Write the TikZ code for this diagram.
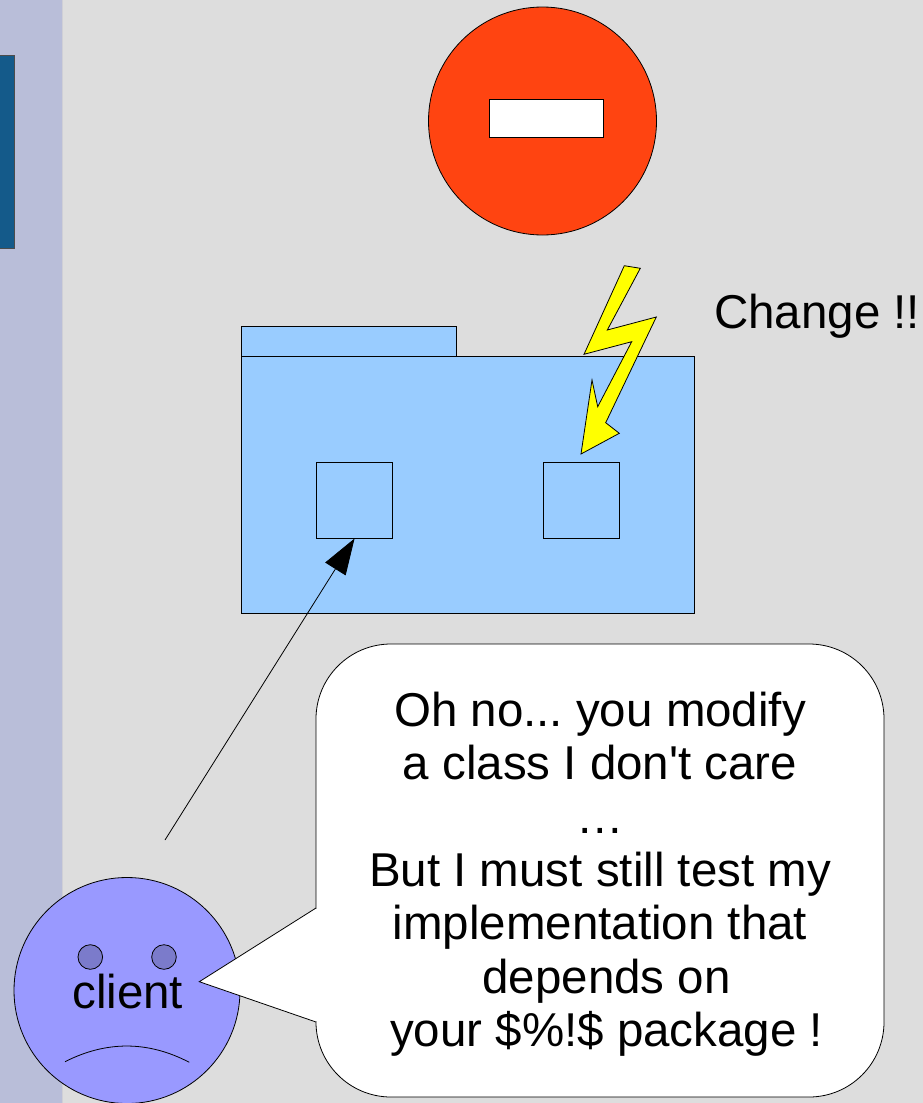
\documentclass[tikz,border=0pt]{standalone}
\usepackage{fontspec}
\setmainfont{Liberation Sans}
\frenchspacing
\usetikzlibrary{arrows.meta}
\definecolor{pagebg}{HTML}{DDDDDD}
\definecolor{sidebar}{HTML}{B9BED9}
\definecolor{sideline}{HTML}{CFCFD6}
\definecolor{navy}{HTML}{145A8A}
\definecolor{stopred}{HTML}{FF4411}
\definecolor{folderblue}{HTML}{99CCFF}
\definecolor{bolt}{HTML}{FFFF00}
\definecolor{facefill}{HTML}{9999FF}
\definecolor{eyefill}{HTML}{7B7BCB}
\begin{document}
\begin{tikzpicture}[x=1pt,y=-1pt,
  outline/.style={draw=black,line width=0.8pt},
  panel/.style={outline,rectangle,inner sep=0pt,anchor=north west},
  disc/.style={outline,circle,inner sep=0pt},
  bigtext/.style={font=\fontsize{47.5}{53.4}\selectfont,inner sep=0pt}]
\useasboundingbox (0,0) rectangle (923,1103);
% page background and side strip
\fill[pagebg] (0,0) rectangle (923,1103);
\fill[sidebar] (0,0) rectangle (61.5,1103);
\draw[sideline,line width=1pt] (62,0) -- (62,1103);
\node[panel,draw=black!70,fill=navy,minimum width=17pt,minimum height=193pt] (sidebox) at (-3,55) {};

% no-entry sign
\node[disc,fill=stopred,minimum size=228pt] (stop) at (542.5,121) {};
\node[panel,fill=white,minimum width=114pt,minimum height=38pt] (bar) at (489,99) {};

% package folder with its two classes
\node[panel,fill=folderblue,minimum width=215.3pt,minimum height=29.7pt] (tab) at (240.7,326) {};
\node[panel,fill=folderblue,minimum width=453.6pt,minimum height=257.6pt] (folder) at (240.7,355.7) {};
\node[panel,fill=folderblue,minimum width=75.7pt,minimum height=75.4pt] (boxL) at (316.3,462.3) {};
\node[panel,fill=folderblue,minimum width=76pt,minimum height=75.4pt] (boxR) at (542.7,462.3) {};

% lightning bolt striking the changed class
\draw[outline,fill=bolt,line join=miter]
  (624.3,265.7) -- (640.3,268.3) -- (607.3,330) -- (656.3,317) -- (605.7,422.7)
  -- (619.3,433.3) -- (581,454) -- (592,380) -- (597.7,406.7) -- (631.7,341.7)
  -- (584,354.3) -- cycle;
\node[bigtext,anchor=base west] (change) at (714,328) {Change !!};

% client face
\node[disc,fill=facefill,minimum size=226pt] (face) at (127,990.5) {};
\node[disc,fill=eyefill,minimum size=24.6pt] (eyeL) at (90.3,957) {};
\node[disc,fill=eyefill,minimum size=24.6pt] (eyeR) at (164,957) {};
\draw[outline] (65,1061.7) .. controls (106.4,1040.7) and (147.9,1040.7) .. (189.3,1062.3);
\node[bigtext,anchor=base] (clientlabel) at (127.7,1008.3) {client};

% dependency arrow from the client to the class it uses
\coordinate (talk) at (165,840);
\draw[black,line width=0.8pt,-{Triangle[length=36pt,width=24pt]}] (talk) -- (boxL.south);

% speech bubble
\node[outline,fill=white,rounded corners=75pt,minimum width=568pt,minimum height=453pt,inner sep=0pt] (bubble) at (600,870.5) {};
\coordinate (tailtop) at (316,908);
\coordinate (tailbot) at (316,1022);
\coordinate (tailtip) at (199.3,981.7);
\fill[white] (tailtop) -- (tailtip) -- (tailbot) -- cycle;
\fill[white] (315,908.6) rectangle (318,1021.4);
\draw[outline,line join=miter] (tailtop) -- (tailtip) -- (tailbot);
\node[bigtext,anchor=base,align=center] (speech) at (600,1046.7)
  {Oh no... you modify\\
   a class I don\textquotesingle t care\\
   …\\
   But I must still test my\\
   implementation that\\
   \hspace*{.28em}depends on\\
   \hspace*{.28em}your \$\%!\$ package !};
\end{tikzpicture}
\end{document}
